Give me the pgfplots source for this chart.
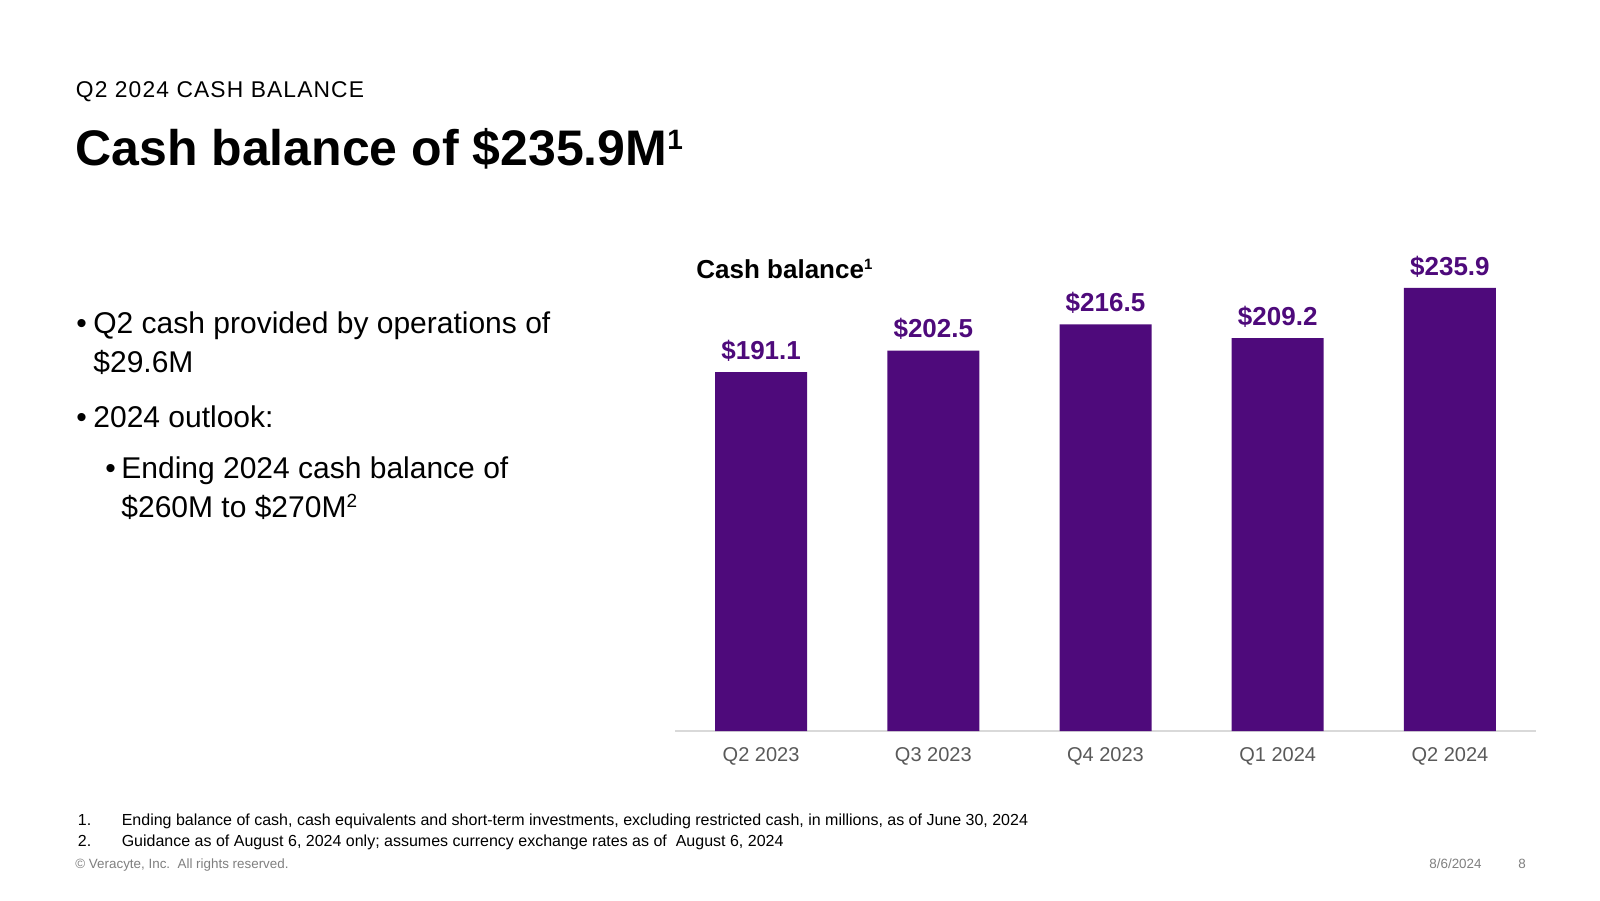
\documentclass[border=0pt]{standalone}
\usepackage{fontspec}
\setmainfont{Liberation Sans}
\usepackage{pgfplots}
\pgfplotsset{compat=1.18}
\definecolor{vpurple}{RGB}{78,10,123}
\definecolor{tickgray}{RGB}{89,89,89}
\definecolor{footgray}{RGB}{127,127,127}
\definecolor{axisgray}{RGB}{217,217,217}
\begin{document}
\begin{tikzpicture}
\path[use as bounding box] (0,0) rectangle (800pt,-450pt);
% header
\node[anchor=base west, inner sep=0pt] at (37.75pt,-48.5pt)
  {\fontsize{11.4pt}{13pt}\selectfont\addfontfeature{LetterSpace=5}Q2 2024 CASH BALANCE};
\node[anchor=base west, inner sep=0pt] at (37.5pt,-82.7pt)
  {\fontsize{25pt}{28pt}\selectfont\bfseries Cash balance of \$235.9M\raisebox{8.2pt}{\fontsize{14pt}{14pt}\selectfont 1}};
% bullets
\begin{scope}[every node/.style={anchor=base west, inner sep=0pt, font=\fontsize{15pt}{18pt}\selectfont}]
\node at (38pt,-166.5pt) {\textbullet};
\node at (46.5pt,-166.5pt) {Q2 cash provided by operations of};
\node at (46.5pt,-186pt) {\$29.6M};
\node at (38pt,-213.5pt) {\textbullet};
\node at (46.5pt,-213.5pt) {2024 outlook:};
\node at (52.5pt,-239pt) {\textbullet};
\node at (60.5pt,-239pt) {Ending 2024 cash balance of};
\node at (60.5pt,-258.5pt) {\$260M to \$270M\raisebox{5pt}{\fontsize{9.5pt}{9.5pt}\selectfont 2}};
\end{scope}
% chart title
\node[anchor=base west, inner sep=0pt] at (348pt,-139.3pt)
  {\fontsize{13pt}{15pt}\selectfont\bfseries Cash balance\raisebox{4.5pt}{\fontsize{7.5pt}{7.5pt}\selectfont 1}};
\begin{axis}[
  at={(337.5pt,-365.5pt)}, anchor=south west,
  scale only axis, width=430.5pt, height=234.75pt,
  xmin=-0.5, xmax=4.5, ymin=0, ymax=250,
  axis x line*=bottom, axis y line=none,
  x axis line style={draw=axisgray, line width=0.8pt},
  ytick=\empty,
  xtick={0,1,2,3,4},
  xticklabels={Q2 2023,Q3 2023,Q4 2023,Q1 2024,Q2 2024},
  major tick length=0pt,
  xticklabel style={anchor=base, inner sep=0pt, yshift=-15.1pt, text=tickgray, font=\fontsize{10pt}{12pt}\selectfont},
  ybar, bar width=46pt,
  clip=false,
  nodes near coords={\$\pgfmathprintnumber[fixed,precision=1,fixed zerofill,assume math mode=true]{\pgfplotspointmeta}},
  nodes near coords style={anchor=base, inner sep=0pt, yshift=6.4pt, text=vpurple, font=\fontsize{13pt}{15pt}\selectfont\bfseries},
]
\addplot[fill=vpurple, draw=none] coordinates {(0,191.1) (1,202.5) (2,216.5) (3,209.2) (4,235.9)};
\end{axis}
% footnotes
\begin{scope}[every node/.style={anchor=base west, inner sep=0pt, font=\fontsize{8pt}{10pt}\selectfont}]
\node at (38.75pt,-412.5pt) {1.};
\node at (60.7pt,-412.5pt) {Ending balance of cash, cash equivalents and short-term investments, excluding restricted cash, in millions, as of June 30, 2024};
\node at (38.75pt,-423.3pt) {2.};
\node at (60.7pt,-423.3pt) {Guidance as of August 6, 2024 only; assumes currency exchange rates as of\ \ August 6, 2024};
\end{scope}
\begin{scope}[every node/.style={anchor=base west, inner sep=0pt, text=footgray, font=\fontsize{6.7pt}{8pt}\selectfont}]
\node at (37.5pt,-434pt) {\textcopyright{} Veracyte, Inc.\ \ All rights reserved.};
\node at (714.5pt,-434pt) {8/6/2024};
\node at (759pt,-434pt) {8};
\end{scope}
\end{tikzpicture}
\end{document}
